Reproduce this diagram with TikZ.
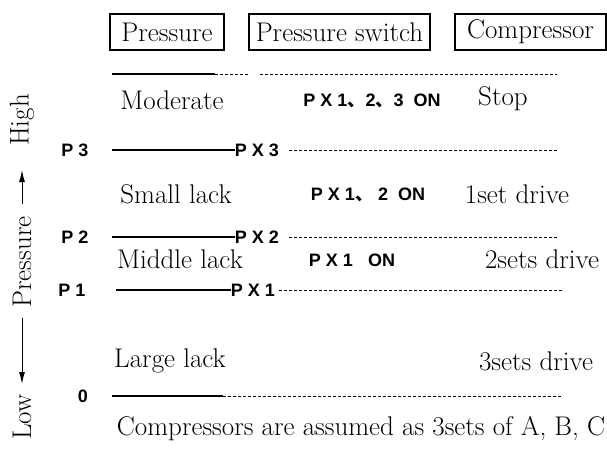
\documentclass[tikz,border=0pt]{standalone}
\usepackage{fontspec}
\newfontfamily\lblfont{Liberation Sans}
\newfontfamily\cjk{Noto Sans CJK SC}
\usetikzlibrary{arrows.meta}
\newcommand{\dn}{{\cjk 、}}
\begin{document}
\begin{tikzpicture}[x=1pt,y=-1pt,
  txt/.style={inner sep=0pt,font=\fontsize{27}{30}\selectfont},
  hdr/.style={draw,line width=1.1pt,inner sep=0pt,minimum height=36pt,font=\fontsize{27}{30}\selectfont},
  lbl/.style={inner sep=0pt,font=\lblfont\bfseries\fontsize{18}{21}\selectfont},
  solidln/.style={line width=1.3pt},
  dashln/.style={line width=0.9pt,dash pattern=on 3pt off 2pt},
  axarrow/.style={line width=1pt,-{Latex[length=12pt,width=6pt]}}]
\useasboundingbox (0,0) rectangle (607,456);
% header boxes
\node[hdr,minimum width=114pt] (hp) at (167,32) {Pressure};
\node[hdr,minimum width=181pt] (hs) at (339.5,32) {Pressure switch};
\node[hdr,minimum width=151pt] (hc) at (530.5,32) {Compressor};
% top line
\coordinate (t0) at (112,74);
\coordinate (t1) at (215,74);
\coordinate (t2) at (248,74);
\coordinate (t3) at (260,74);
\coordinate (t4) at (557,74);
\draw[solidln] (t0) -- (t1);
\draw[dashln] (t1) -- (t2);
\draw[dashln] (t3) -- (t4);
% rows of text
\node[txt] (mod) at (172,100) {Moderate};
\node[lbl] (s3) at (372,101) {P X 1\dn 2\dn 3 \ ON};
\node[txt] (stop) at (503,99) {Stop};
\node[txt] (small) at (176,194) {Small lack};
\node[lbl] (s2) at (368,195) {P X 1\dn\ 2 \ ON};
\node[txt] (one) at (517,194) {1set drive};
\node[txt] (mid) at (180,259) {Middle lack};
\node[lbl] (s1) at (352,260) {P X 1 \ \ ON};
\node[txt] (two) at (542,259) {2sets drive};
\node[txt] (large) at (170,361) {Large lack};
\node[txt] (three) at (536,361) {3sets drive};
\node[txt] (note) at (361,429) {Compressors are assumed as 3sets of A, B, C};
% P3
\node[lbl] (p3) at (75,150) {P 3};
\node[lbl] (px3) at (257,150) {P X 3};
\coordinate (p3a) at (112,150);
\coordinate (p3b) at (557,150);
\draw[solidln] (p3a) -- (px3.west);
\draw[dashln] ([xshift=10pt]px3.east) -- (p3b);
% P2
\node[lbl] (p2) at (75,237) {P 2};
\node[lbl] (px2) at (257,237) {P X 2};
\coordinate (p2a) at (112,237);
\coordinate (p2b) at (557,237);
\draw[solidln] (p2a) -- (px2.west);
\draw[dashln] ([xshift=10pt]px2.east) -- (p2b);
% P1
\node[lbl] (p1) at (72,290) {P 1};
\node[lbl] (px1) at (253,290) {P X 1};
\coordinate (p1a) at (116,290);
\coordinate (p1b) at (563,290);
\draw[solidln] (p1a) -- (px1.west);
\draw[dashln] ([xshift=4pt]px1.east) -- (p1b);
% 0
\node[lbl] (p0) at (83,396) {0};
\coordinate (p0a) at (112,396);
\coordinate (p0m) at (223,396);
\coordinate (p0b) at (563,396);
\draw[solidln] (p0a) -- (p0m);
\draw[dashln] (p0m) -- (p0b);
% left axis
\node[txt,rotate=90] (high) at (22,120) {High};
\node[txt,rotate=90] (pres) at (22,262) {Pressure};
\node[txt,rotate=90] (low) at (22,417) {Low};
\coordinate (a1) at (22,204);
\coordinate (a2) at (22,170);
\coordinate (a3) at (22,318);
\coordinate (a4) at (22,384);
\draw[axarrow] (a1) -- (a2);
\draw[axarrow] (a3) -- (a4);
\end{tikzpicture}
\end{document}
